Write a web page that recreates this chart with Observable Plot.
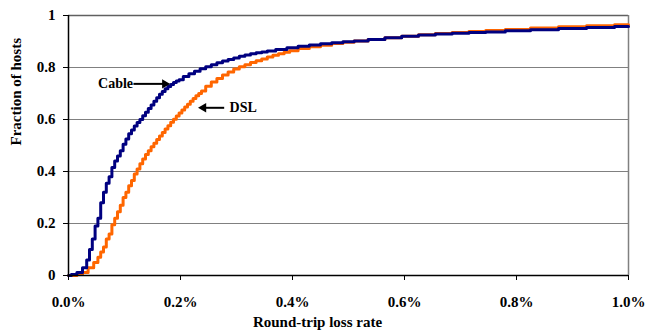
<!DOCTYPE html>
<html>
<head>
<meta charset="utf-8">
<script src="https://cdn.jsdelivr.net/npm/d3@7"></script>
<script src="https://cdn.jsdelivr.net/npm/@observablehq/plot@0.6"></script>
<style>
  html, body { margin: 0; padding: 0; background: #fff; }
</style>
</head>
<body>
<div id="chart"></div>
<script>
// Loss rate (%) vs fraction of hosts (CDF)
const cable = [[0,0],[0.01,0.004],[0.02,0.012],[0.03,0.03],[0.035,0.06],[0.04,0.10],[0.045,0.14],[0.05,0.19],[0.055,0.22],[0.06,0.28],[0.065,0.32],[0.07,0.355],[0.075,0.38],[0.08,0.415],[0.085,0.44],[0.09,0.46],[0.095,0.48],[0.10,0.505],[0.105,0.525],[0.11,0.545],[0.115,0.56],[0.12,0.575],[0.125,0.588],[0.13,0.60],[0.135,0.614],[0.14,0.628],[0.145,0.642],[0.15,0.656],[0.155,0.670],[0.16,0.684],[0.165,0.697],[0.17,0.708],[0.175,0.718],[0.18,0.727],[0.185,0.735],[0.19,0.742],[0.195,0.748],[0.20,0.753],[0.21,0.765],[0.22,0.776],[0.23,0.786],[0.24,0.795],[0.25,0.803],[0.26,0.811],[0.27,0.818],[0.28,0.825],[0.29,0.831],[0.30,0.837],[0.31,0.843],[0.32,0.848],[0.33,0.853],[0.34,0.857],[0.35,0.86],[0.36,0.863],[0.38,0.869],[0.40,0.876],[0.42,0.882],[0.44,0.887],[0.46,0.891],[0.48,0.895],[0.50,0.899],[0.52,0.902],[0.55,0.908],[0.58,0.914],[0.61,0.920],[0.64,0.925],[0.67,0.929],[0.70,0.932],[0.73,0.935],[0.76,0.937],[0.80,0.941],[0.85,0.945],[0.90,0.950],[0.95,0.954],[1.0,0.958]];
const dsl = [[0,0],[0.01,0],[0.02,0.004],[0.03,0.012],[0.04,0.03],[0.05,0.05],[0.055,0.07],[0.06,0.09],[0.065,0.11],[0.07,0.14],[0.075,0.16],[0.08,0.195],[0.085,0.22],[0.09,0.245],[0.095,0.27],[0.10,0.30],[0.105,0.32],[0.11,0.345],[0.115,0.365],[0.12,0.39],[0.125,0.41],[0.13,0.43],[0.135,0.448],[0.14,0.465],[0.145,0.48],[0.15,0.495],[0.155,0.509],[0.16,0.523],[0.165,0.537],[0.17,0.550],[0.175,0.563],[0.18,0.576],[0.185,0.589],[0.19,0.601],[0.195,0.613],[0.20,0.625],[0.205,0.637],[0.21,0.648],[0.215,0.659],[0.22,0.670],[0.225,0.681],[0.23,0.691],[0.235,0.70],[0.24,0.710],[0.25,0.728],[0.26,0.744],[0.27,0.758],[0.28,0.771],[0.29,0.783],[0.30,0.794],[0.31,0.803],[0.32,0.811],[0.33,0.819],[0.34,0.826],[0.35,0.833],[0.36,0.84],[0.37,0.847],[0.38,0.853],[0.39,0.859],[0.40,0.864],[0.42,0.873],[0.44,0.880],[0.46,0.886],[0.48,0.892],[0.50,0.897],[0.52,0.902],[0.55,0.908],[0.58,0.914],[0.61,0.920],[0.64,0.926],[0.67,0.931],[0.70,0.935],[0.73,0.938],[0.76,0.942],[0.80,0.946],[0.85,0.952],[0.90,0.957],[0.95,0.961],[1.0,0.964]];

const xTicks = [0, 0.2, 0.4, 0.6, 0.8, 1.0];
const yTicks = [0, 0.2, 0.4, 0.6, 0.8, 1];
const xTickLabels = ["0.0%", "0.2%", "0.4%", "0.6%", "0.8%", "1.0%"];
const yTickLabels = ["0", "0.2", "0.4", "0.6", "0.8", "1"];
const xTitle = "Round-trip loss rate";
const yTitle = "Fraction of hosts";

// annotations: label text position and arrow (data units)
const labels = [
  {text: "Cable", x: 0.084, y: 0.737},
  {text: "DSL", x: 0.312, y: 0.645}
];
const arrows = [
  {x1: 0.116, x2: 0.172, y: 0.737, dir: 90},
  {x1: 0.278, x2: 0.241, y: 0.645, dir: -90}
];

const toObj = (arr) => arr.map(([x, y]) => ({x, y}));

const chart = Plot.plot({
  width: 647,
  height: 335,
  marginLeft: 68,
  marginRight: 19,
  marginTop: 15,
  marginBottom: 60,
  style: {fontFamily: "'Liberation Serif', 'Times New Roman', serif", fontSize: "15px", fontWeight: "bold", background: "#fff", color: "#000"},
  x: {domain: [0, 1], ticks: xTicks},
  y: {domain: [0, 1], ticks: yTicks},
  marks: [
    Plot.gridY([0.2, 0.4, 0.6, 0.8], {stroke: "#808080", strokeOpacity: 1, strokeWidth: 1}),
    Plot.ruleY([1], {stroke: "#606060", strokeWidth: 1.5}),
    Plot.ruleX([1], {stroke: "#808080", strokeWidth: 1.5}),
    Plot.line(toObj(dsl), {x: "x", y: "y", stroke: "#FF6600", strokeWidth: 3, curve: "step"}),
    Plot.line(toObj(cable), {x: "x", y: "y", stroke: "#000080", strokeWidth: 3, curve: "step"}),
    Plot.ruleX([0], {stroke: "#000", strokeWidth: 1.5}),
    Plot.ruleY([0], {stroke: "#000", strokeWidth: 1.5}),
    Plot.axisY({ticks: yTicks, tickFormat: (d, i) => yTickLabels[i], tickSize: 5, tickPadding: 8, label: null, fontSize: 15}),
    Plot.axisX({ticks: xTicks, tickFormat: (d, i) => xTickLabels[i], tickSize: 5, tickPadding: 16, label: null, fontSize: 15}),
    Plot.text([yTitle], {frameAnchor: "left", rotate: -90, dx: -52, fontSize: 15}),
    Plot.text([xTitle], {frameAnchor: "bottom", dx: -31, dy: 51, fontSize: 15}),
    Plot.text(labels, {x: "x", y: "y", text: "text", fontSize: 14}),
    Plot.link(arrows, {x1: "x1", x2: "x2", y1: "y", y2: "y", stroke: "#000", strokeWidth: 2}),
    Plot.dot(arrows, {x: "x2", y: "y", symbol: "triangle2", r: 4.5, fill: "#000", stroke: "none", rotate: "dir"})
  ]
});
document.getElementById("chart").appendChild(chart);
</script>
</body>
</html>
